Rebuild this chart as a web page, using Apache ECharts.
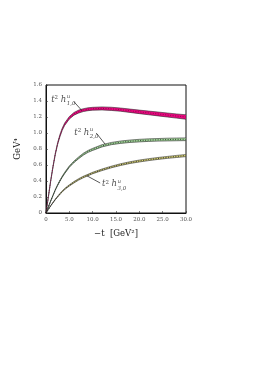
<!DOCTYPE html>
<html><head><meta charset="utf-8">
<script src="https://cdn.jsdelivr.net/npm/echarts@6/dist/echarts.min.js"></script>
<style>html,body{margin:0;padding:0;background:#fff}#c{width:259px;height:366px}</style>
</head><body><div id="c"></div>
<script>
// -t values [GeV^2]
const xs = [0,0.5,1,1.5,2,2.5,3,3.5,4,5,6,7,8,9,10,12,14,16,18,20,22,24,26,28,30];
// t^2 h^u_{1,0}
const h1Mid = [0,0.2,0.4,0.58,0.74,0.87,0.97,1.05,1.11,1.19,1.24,1.268,1.286,1.297,1.303,1.307,1.302,1.292,1.278,1.264,1.251,1.238,1.225,1.212,1.2];
const h1Low = [0,0.197,0.395,0.573,0.731,0.859,0.957,1.036,1.095,1.174,1.223,1.25,1.268,1.279,1.285,1.288,1.282,1.272,1.257,1.242,1.228,1.214,1.2,1.186,1.172];
const h1High= [0,0.203,0.405,0.587,0.749,0.881,0.983,1.064,1.125,1.206,1.257,1.286,1.304,1.315,1.321,1.326,1.322,1.312,1.299,1.286,1.274,1.262,1.25,1.238,1.228];
// t^2 h^u_{2,0}
const h2Mid = [0,0.075,0.15,0.22,0.29,0.35,0.405,0.455,0.5,0.58,0.64,0.69,0.735,0.77,0.795,0.84,0.868,0.885,0.897,0.905,0.911,0.915,0.918,0.92,0.922];
const h2Low = [0,0.074,0.148,0.217,0.286,0.345,0.399,0.448,0.492,0.571,0.63,0.679,0.723,0.758,0.782,0.826,0.854,0.87,0.882,0.889,0.895,0.899,0.901,0.903,0.905];
const h2High= [0,0.076,0.152,0.223,0.294,0.355,0.411,0.462,0.508,0.589,0.65,0.701,0.747,0.782,0.808,0.854,0.882,0.9,0.912,0.921,0.927,0.931,0.935,0.937,0.939];
// t^2 h^u_{3,0}
const h3Mid = [0,0.045,0.09,0.13,0.17,0.205,0.24,0.27,0.3,0.345,0.385,0.42,0.45,0.475,0.5,0.54,0.575,0.605,0.63,0.65,0.667,0.682,0.695,0.707,0.718];
const h3Low = [0,0.044,0.088,0.127,0.166,0.2,0.234,0.263,0.293,0.337,0.376,0.411,0.441,0.466,0.491,0.53,0.565,0.594,0.619,0.638,0.655,0.67,0.683,0.694,0.705];
const h3High= [0,0.046,0.092,0.133,0.174,0.21,0.246,0.277,0.307,0.353,0.394,0.429,0.459,0.484,0.509,0.55,0.585,0.616,0.641,0.662,0.679,0.694,0.707,0.72,0.731];
// axis ticks
const xTicks = [0,5,10,15,20,25,30];
const yTicks = [0,0.2,0.4,0.6,0.8,1.0,1.2,1.4,1.6];
// curve labels: anchor, subscript index
const labelNames = ['1,0','2,0','3,0'];
const labelAnchors = [[1.1,1.42],[6.05,1.0],[12.0,0.36]];
const leaders = [[[6.0,1.39],[7.7,1.28]],[[10.76,1.0],[12.68,0.86]],[[11.61,0.375],[8.77,0.465]]];

const pair = (a)=>xs.map((x,i)=>[x,a[i]]);
const SERIF = '"DejaVu Serif","Liberation Serif",serif';

function band(name, lo, hi, mid, fill, midColor){
  const rows = xs.map((x,i)=>[x, lo[i], hi[i]]);
  return [
    {type:'custom', name:name+'band', data:rows, z:2, silent:true,
     encode:{x:0, y:[1,2]},
     renderItem:(params, api)=>{
       if (params.dataIndex !== 0) return;
       const up = [], dn = [];
       for (let i=0;i<rows.length;i++){
         up.push(api.coord([rows[i][0], rows[i][2]]));
         dn.push(api.coord([rows[i][0], rows[i][1]]));
       }
       return {type:'polygon', shape:{points: up.concat(dn.reverse()), smooth:0},
               style:{fill:fill, stroke:null}};
     }},
    {type:'line', name:name+'lo', data:pair(lo), smooth:false, symbol:'none',
     lineStyle:{color:'#222', width:0.6}, z:3, silent:true},
    {type:'line', name:name+'hi', data:pair(hi), smooth:false, symbol:'none',
     lineStyle:{color:'#333', width:0.6}, z:3, silent:true},
    {type:'line', name:name+'mid', data:pair(mid), smooth:false, symbol:'none',
     lineStyle:{color:midColor, width:0.9, type:[1,1.5]}, z:4, silent:true}
  ];
}

const chart = echarts.init(document.getElementById('c'), null, {renderer:'canvas'});
const labelData = [];
labelAnchors.forEach((a,i)=>{
  labelData.push({value:a, label:{formatter:'{m|t}{p|2}{m| h}'}});
  labelData.push({value:a, label:{formatter:'{s|u}\n{s|'+labelNames[i]+'}', offset:[15.5,0.5]}});
});

chart.setOption({
  animation:false,
  grid:{left:46, top:85, width:140, height:128, show:true, borderColor:'#111', borderWidth:1, backgroundColor:'transparent'},
  xAxis:{type:'value', min:0, max:30, interval:5,
    name:'−t  [GeV²]', nameLocation:'middle', nameGap:16,
    nameTextStyle:{fontFamily:SERIF, fontSize:8.5, color:'#222'},
    axisLine:{show:true, lineStyle:{color:'#111', width:1}},
    axisTick:{show:true, inside:true, length:2, lineStyle:{color:'#333', width:0.6}},
    axisLabel:{fontFamily:SERIF, fontSize:5.5, color:'#555', margin:4,
      formatter:(v)=> xTicks.includes(v) ? (v===0?'0':v.toFixed(1)) : ''},
    splitLine:{show:false}},
  yAxis:{type:'value', min:0, max:1.6, interval:0.2,
    name:'GeV⁴', nameLocation:'middle', nameGap:14,
    nameTextStyle:{fontFamily:SERIF, fontSize:8.5, color:'#222'},
    axisLine:{show:true, lineStyle:{color:'#111', width:1}},
    axisTick:{show:true, inside:true, length:2, lineStyle:{color:'#333', width:0.6}},
    axisLabel:{fontFamily:SERIF, fontSize:5.5, color:'#555', margin:4,
      formatter:(v)=>{const t=yTicks.find(y=>Math.abs(y-v)<1e-6); return t===undefined?'':(t===0?'0':t.toFixed(1));}},
    splitLine:{show:false}},
  series:[
    ...band('h1', h1Low, h1High, h1Mid, '#e8087f', '#8a0a48'),
    ...band('h2', h2Low, h2High, h2Mid, '#a9d9a0', '#1e3a1e'),
    ...band('h3', h3Low, h3High, h3Mid, '#e4df7a', '#222'),
    {type:'scatter', symbolSize:0, data:labelData, z:5, silent:true,
     label:{show:true, position:'right', distance:0,
       rich:{
         m:{fontFamily:SERIF, fontStyle:'italic', fontSize:8.5, color:'#222'},
         p:{fontFamily:SERIF, fontSize:5.5, color:'#222', verticalAlign:'top', padding:[0,0,4,0]},
         s:{fontFamily:SERIF, fontStyle:'italic', fontSize:5.5, color:'#222', lineHeight:7}
       }},
     markLine:{silent:true, symbol:['none','none'], animation:false,
       lineStyle:{color:'#111', width:0.7, type:'solid'}, label:{show:false},
       data: leaders.map(l=>[{coord:l[0]},{coord:l[1]}])}
    }
  ]
});
</script></body></html>
